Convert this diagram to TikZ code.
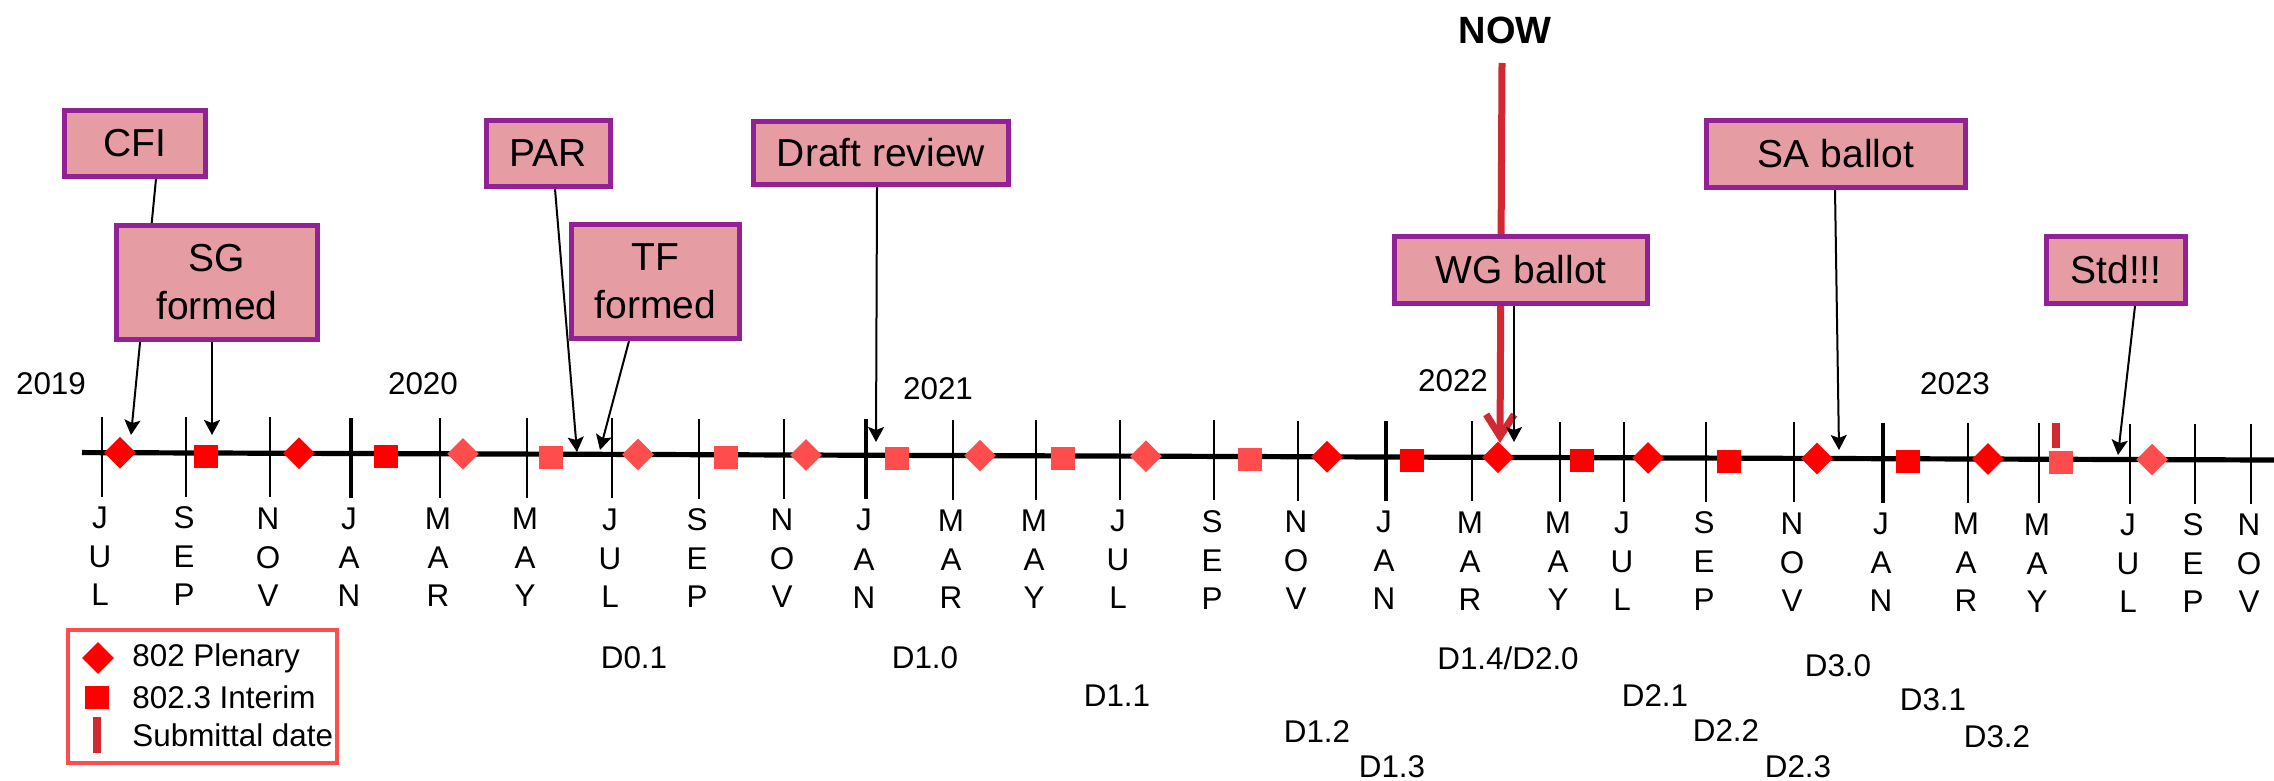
\documentclass[tikz,border=0pt]{standalone}
\usepackage{fontspec}
\setmainfont{Liberation Sans}
\usetikzlibrary{arrows.meta,calc,shapes.geometric}
\definecolor{boxfill}{RGB}{230,156,163}
\definecolor{boxdraw}{RGB}{147,33,150}
\definecolor{mred}{RGB}{255,0,0}
\definecolor{lred}{RGB}{255,77,77}
\definecolor{nowred}{RGB}{210,40,50}
\newcommand\mfont{\fontsize{15.7}{18}\selectfont}
\newcommand\bxfont{\fontsize{19.5}{24}\selectfont}
\begin{document}
\begin{tikzpicture}[x=0.5pt,y=-0.5pt,
  declare function={ly(\t)=452.5+0.00338*(\t-57);},
  tick/.style={line width=1pt},
  thicktick/.style={line width=1.7pt},
  dia/.style={diamond,aspect=1,fill=#1,inner sep=0pt,minimum width=16pt,minimum height=16pt},
  sq/.style={rectangle,fill=#1,inner sep=0pt,minimum width=12pt,minimum height=11.5pt},
  lbl/.style={font=\mfont,inner sep=0pt,anchor=center},
  boxst/.style={draw=boxdraw,fill=boxfill,line width=2.5pt,inner sep=0pt,font=\bxfont,align=center},
  conn/.style={line width=1pt,-{Stealth[length=7.5pt,width=8pt,inset=1.5pt]}},
  nowarr/.style={draw=nowred,line width=3.5pt,-{Straight Barb[length=11pt,width=14pt]}}]
\useasboundingbox (0,0) rectangle (2274,781);

% timeline
\coordinate (tlL) at (82,{ly(82)});
\coordinate (tlR) at (2274,{ly(2274)});
\draw[line width=2.6pt] (tlL) -- (tlR);

% ticks and month letters
\foreach \x/\a/\b/\c/\k [count=\i] in {102/J/U/L/0,186/S/E/P/0,270/N/O/V/0,351/J/A/N/1,440/M/A/R/0,527/M/A/Y/0,612/J/U/L/0,699/S/E/P/0,784/N/O/V/0,866/J/A/N/1,953/M/A/R/0,1036/M/A/Y/0,1120/J/U/L/0,1214/S/E/P/0,1298/N/O/V/0,1386/J/A/N/1,1472/M/A/R/0,1560/M/A/Y/0,1624/J/U/L/0,1706/S/E/P/0,1794/N/O/V/0,1883/J/A/N/1,1968/M/A/R/0,2039/M/A/Y/0,2130/J/U/L/0,2195/S/E/P/0,2251/N/O/V/0}{
  \pgfmathsetmacro\yy{ly(\x)}
  \ifnum\k=1
    \draw[thicktick] (\x,\yy-36) -- (\x,\yy+44);
  \else
    \draw[tick] (\x,\yy-36) -- (\x,\yy+44);
  \fi
  \node[lbl] (m\i a) at (\x-2,\yy+65) {\a};
  \node[lbl] (m\i b) at (\x-2,\yy+104) {\b};
  \node[lbl] (m\i c) at (\x-2,\yy+142) {\c};
}

% markers
\foreach \x/\t/\c [count=\i] in {120/D/mred,206/S/mred,299/D/mred,386/S/mred,463/D/lred,551/S/lred,638/D/lred,726/S/lred,806/D/lred,897/S/lred,980/D/lred,1063/S/lred,1146/D/lred,1250/S/lred,1327/D/mred,1412/S/mred,1498/D/mred,1582/S/mred,1648/D/mred,1729/S/mred,1817/D/mred,1908/S/mred,1988/D/mred,2061/S/lred,2152/D/lred}{
  \pgfmathsetmacro\yy{ly(\x)}
  \if\t D
    \node[dia=\c] (mk\i) at (\x,\yy) {};
  \else
    \node[sq=\c] (mk\i) at (\x,\yy+3) {};
  \fi
}
% submittal mark
\draw[nowred,line width=4pt] (2056,423) -- (2056,448);

% years
\node[lbl] (y2019) at (51,384) {2019};
\node[lbl] (y2020) at (423,384) {2020};
\node[lbl] (y2021) at (938,389) {2021};
\node[lbl] (y2022) at (1453,381) {2022};
\node[lbl] (y2023) at (1955,384) {2023};

% drafts
\node[lbl] (d01) at (634,658) {D0.1};
\node[lbl] (d10) at (925,658) {D1.0};
\node[lbl] (d11) at (1117,696) {D1.1};
\node[lbl] (d12) at (1317,732) {D1.2};
\node[lbl] (d13) at (1392,767) {D1.3};
\node[lbl] (d14) at (1508,658) {D1.4/D2.0};
\node[lbl] (d21) at (1655,696) {D2.1};
\node[lbl] (d22) at (1726,731) {D2.2};
\node[lbl] (d23) at (1798,767) {D2.3};
\node[lbl] (d30) at (1838,666) {D3.0};
\node[lbl] (d31) at (1933,700) {D3.1};
\node[lbl] (d32) at (1997,737) {D3.2};

% NOW
\node[font=\fontsize{19}{22}\selectfont\bfseries,inner sep=0pt] (now) at (1505,30) {NOW};
\coordinate (nowtop) at (1502,63);
\coordinate (nowtip) at (1500,443);
\draw[nowarr] (nowtop) -- (nowtip);

% target coordinates
\coordinate (tcfi) at (131,435);
\coordinate (tsg) at (212,435);
\coordinate (tpar) at (577,452);
\coordinate (ttf) at (600,450);
\coordinate (tdr) at (876,442);
\coordinate (twg) at (1514,442);
\coordinate (tsa) at (1839,450);
\coordinate (tstd) at (2118,455);

% box anchors (invisible, to route connectors behind the boxes)
\path (135,143.5) node[boxst,minimum width=70.5pt,minimum height=33pt,draw=none,fill=none] (cfi) {\phantom{CFI}};
\path (217,282.5) node[boxst,minimum width=100.5pt,minimum height=57pt,draw=none,fill=none] (sg) {\phantom{SG}};
\path (548.5,153.5) node[boxst,minimum width=62pt,minimum height=33pt,draw=none,fill=none] (par) {\phantom{PAR}};
\path (655.5,281.5) node[boxst,minimum width=84pt,minimum height=57pt,draw=none,fill=none] (tf) {\phantom{TF}};
\path (881,153) node[boxst,minimum width=127.5pt,minimum height=31.5pt,draw=none,fill=none] (dr) {\phantom{D}};
\path (1521,270) node[boxst,minimum width=126.5pt,minimum height=33.5pt,draw=none,fill=none] (wg) {\phantom{W}};
\path (1836,154) node[boxst,minimum width=129.5pt,minimum height=33.5pt,draw=none,fill=none] (sa) {\phantom{S}};
\path (2116,270) node[boxst,minimum width=69.5pt,minimum height=33.5pt,draw=none,fill=none] (std) {\phantom{S}};

% connectors
\draw[conn] ($(cfi.south)+(21,0)$) -- (tcfi);
\draw[conn] ($(sg.south)+(-5,0)$) -- (tsg);
\draw[conn] ($(par.south)+(6.5,0)$) -- (tpar);
\draw[conn] ($(tf.south)+(-26.5,0)$) -- (ttf);
\draw[conn] ($(dr.south)+(-4,0)$) -- (tdr);
\draw[conn] ($(wg.south)+(-7,0)$) -- (twg);
\draw[conn] ($(sa.south)+(-1,0)$) -- (tsa);
\draw[conn] ($(std.south)+(19,0)$) -- (tstd);

% visible boxes
\node[boxst,minimum width=70.5pt,minimum height=33pt] (cfiB) at (cfi) {CFI};
\node[boxst,minimum width=100.5pt,minimum height=57pt] (sgB) at (sg) {SG\\formed};
\node[boxst,minimum width=62pt,minimum height=33pt] (parB) at (par) {PAR};
\node[boxst,minimum width=84pt,minimum height=57pt] (tfB) at (tf) {TF\\formed};
\node[boxst,minimum width=127.5pt,minimum height=31.5pt] (drB) at (dr) {Draft review};
\node[boxst,minimum width=126.5pt,minimum height=33.5pt] (wgB) at (wg) {WG ballot};
\node[boxst,minimum width=129.5pt,minimum height=33.5pt] (saB) at (sa) {SA ballot};
\node[boxst,minimum width=69.5pt,minimum height=33.5pt] (stdB) at (std) {Std!!!};

% legend
\node[draw=lred,line width=2pt,minimum width=134.5pt,minimum height=66.5pt,inner sep=0pt] (legend) at (202.5,696.5) {};
\node[dia=mred] (lgd) at (98,658) {};
\node[sq=mred] (lgs) at (97,697) {};
\draw[nowred,line width=4pt] (97,717) -- (97,753);
\node[lbl,anchor=west] (lt1) at (132,658) {802 Plenary};
\node[lbl,anchor=west] (lt2) at (132,697) {802.3 Interim};
\node[lbl,anchor=west] (lt3) at (132,735) {Submittal date};
\end{tikzpicture}
\end{document}
